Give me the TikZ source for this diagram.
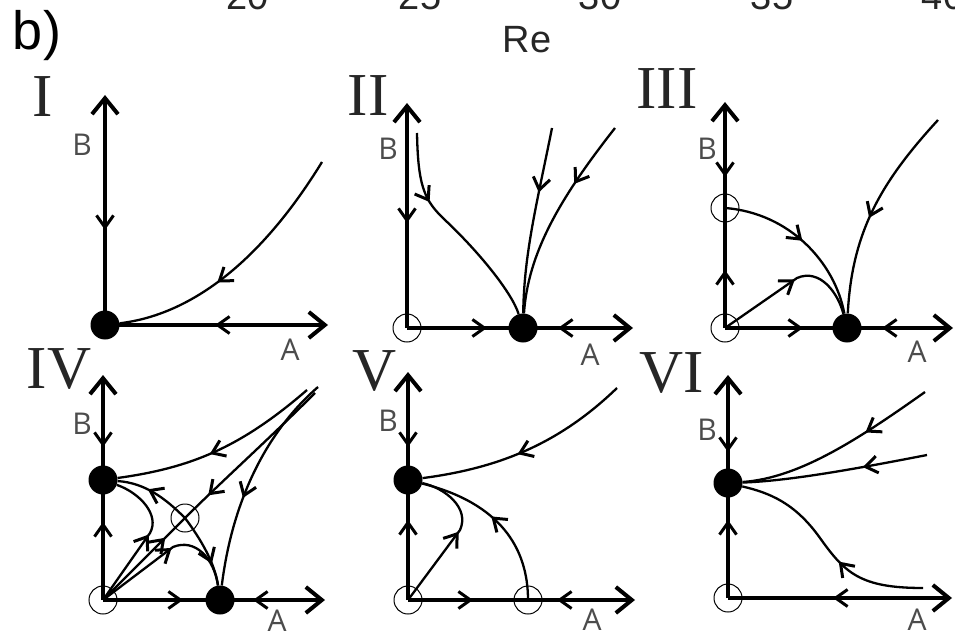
\documentclass[tikz,border=0pt]{standalone}
\usepackage{fontspec}
\setmainfont{Liberation Serif}
\setsansfont{Open Sans}
\newfontfamily\helvfont{Liberation Sans}
\usetikzlibrary{arrows.meta,decorations.markings}

\begin{document}
\begin{tikzpicture}[x=1pt,y=1pt,
  axline/.style={line width=4pt,-{Straight Barb[length=16pt,width=26pt,line width=4pt]}},
  traj/.style={line width=2.3pt},
  fwd/.style={postaction={decorate,decoration={markings,mark=at position #1 with
      {\arrow[line width=3pt]{Straight Barb[length=12pt,width=17pt]}}}}},
  bwd/.style={postaction={decorate,decoration={markings,mark=at position #1 with
      {\arrowreversed[line width=3pt]{Straight Barb[length=12pt,width=17pt]}}}}},
  sink/.style={circle,fill,inner sep=0pt,minimum size=29pt},
  src/.style={circle,draw,line width=1pt,inner sep=0pt,minimum size=28pt},
  num/.style={font=\fontsize{61}{61}\selectfont,text=black!85},
  lab/.style={font=\sffamily\fontsize{30}{30}\selectfont,text=black!70},
  hv/.style={font=\helvfont\fontsize{38}{38}\selectfont,text=black!85}]
\useasboundingbox (0,0) rectangle (955,633);
\fill[white] (0,0) rectangle (955,633);
\clip (0,0) rectangle (955,633);

% cut-off axis of the panel above
\foreach \tx/\tl in {248/20,420/25,600/30,772/35,943/40}
  \node[hv,anchor=base] (t\tl) at (\tx,623) {\tl};
\node[hv] (re) at (527,593) {Re};
\node[font=\helvfont\fontsize{54}{54}\selectfont] (bb) at (37,597) {b)};

% I
\coordinate (o1) at (105,308);
\draw[axline,bwd=95pt] (o1) -- ++(0,230);
\draw[axline,bwd=110pt] (o1) -- ++(223,0);
\node[sink] (s1) at (o1) {};
\node[num] (n1) at (43,536) {I};
\node[lab] (b1) at (82,488) {B};
\node[lab] (a1) at (290,283) {A};
\draw[traj,fwd=0.6] (322,471) .. controls (260,370) and (190,318) .. (s1);

% II
\coordinate (o2) at (407,305);
\coordinate (e2) at (523,305);
\draw[axline,bwd=105pt] (o2) -- ++(0,225);
\draw[axline,fwd=80pt,bwd=151pt] (o2) -- ++(226,0);
\node[src] (u2) at (o2) {};
\node[sink] (s2) at (e2) {};
\node[num] (n2) at (368,537) {II};
\node[lab] (b2) at (388,484) {B};
\node[lab] (a2) at (590,278) {A};
\draw[traj,fwd=0.33] (417,500) .. controls (418,445) and (425,432) .. (445,413)
  .. controls (480,380) and (512,340) .. (s2);
\draw[traj,fwd=0.35] (552,505) .. controls (537,430) and (524,380) .. (s2);
\draw[traj,fwd=0.33] (615,505) .. controls (560,435) and (528,380) .. (s2);

% III
\coordinate (o3) at (725,305);
\coordinate (f3) at (725,425);
\coordinate (e3) at (847,305);
\draw[axline,fwd=58pt,bwd=151pt] (o3) -- ++(0,226);
\draw[axline,fwd=78pt,bwd=157pt] (o3) -- ++(228,0);
\node[src] (u3) at (o3) {};
\node[src] (v3) at (f3) {};
\node[sink] (s3) at (e3) {};
\node[num] (n3) at (667,544) {III};
\node[lab] (b3) at (707,484) {B};
\node[lab] (a3) at (917,281) {A};
\draw[traj,fwd=0.5] (v3.center) .. controls (790,420) and (835,370) .. (s3);
\draw[traj,fwd=85pt] (u3.center) -- (797,355) .. controls (820,365) and (838,340) .. (s3);
\draw[traj,fwd=0.55] (938,513) .. controls (880,450) and (852,400) .. (s3);

% IV
\coordinate (o4) at (103,33);
\coordinate (f4) at (103,153);
\coordinate (e4) at (220,33);
\coordinate (d4) at (185,115);
\draw[axline,fwd=78pt,bwd=153pt] (o4) -- ++(0,225);
\draw[axline,fwd=80pt,bwd=150pt] (o4) -- ++(222,0);
\node[src] (u4) at (o4) {};
\node[sink] (p4) at (f4) {};
\node[sink] (q4) at (e4) {};
\node[src] (v4) at (d4) {};
\node[num] (n4) at (59,264) {IV};
\node[lab] (b4) at (82,209) {B};
\node[lab] (a4) at (277,12) {A};
\draw[traj,fwd=0.55] (307,243) .. controls (240,185) and (190,165) .. (p4);
\draw[traj,fwd=0.82] (315,240) .. controls (270,195) and (220,150) .. (v4.center);
\draw[traj,fwd=0.6] (318,246) .. controls (265,200) and (232,130) .. (q4);
\draw[traj,fwd=0.6] (v4.center) .. controls (165,135) and (145,150) .. (p4);
\draw[traj,fwd=0.7] (v4.center) .. controls (200,95) and (215,70) .. (q4);
\draw[traj,fwd=80pt] (u4.center) -- (150,100) .. controls (160,118) and (140,140) .. (p4);
\draw[traj,fwd=88pt] (u4.center) -- (v4.center);
\draw[traj,fwd=86pt] (u4.center) -- (173,86) .. controls (195,95) and (214,75) .. (q4);

% V
\coordinate (o5) at (408,33);
\coordinate (f5) at (408,153);
\coordinate (e5) at (528,33);
\draw[axline,fwd=80pt,bwd=153pt] (o5) -- ++(0,228);
\draw[axline,fwd=65pt,bwd=149pt] (o5) -- ++(227,0);
\node[src] (u5) at (o5) {};
\node[sink] (p5) at (f5) {};
\node[src] (v5) at (e5) {};
\node[num] (n5) at (375,262) {V};
\node[lab] (b5) at (388,212) {B};
\node[lab] (a5) at (592,13) {A};
\draw[traj,fwd=0.55] (617,245) .. controls (560,190) and (500,165) .. (p5);
\draw[traj,fwd=85pt] (u5.center) -- (460,103) .. controls (470,125) and (445,145) .. (p5);
\draw[traj,fwd=0.55] (v5.center) .. controls (528,85) and (500,130) .. (p5);

% VI
\coordinate (o6) at (728,35);
\coordinate (f6) at (728,150);
\draw[axline,fwd=78pt,bwd=146pt] (o6) -- ++(0,223);
\draw[axline,bwd=105pt] (o6) -- ++(224,0);
\node[src] (u6) at (o6) {};
\node[sink] (p6) at (f6) {};
\node[num] (n6) at (672,260) {VI};
\node[lab] (b6) at (707,203) {B};
\node[lab] (a6) at (917,13) {A};
\draw[traj,fwd=0.35] (925,241) .. controls (860,195) and (800,155) .. (p6);
\draw[traj,fwd=0.35] (927,178) .. controls (860,165) and (790,152) .. (p6);
\draw[traj,fwd=0.42] (923,45) .. controls (860,45) and (845,60) .. (820,95)
  .. controls (795,130) and (770,140) .. (p6);
\end{tikzpicture}
\end{document}
